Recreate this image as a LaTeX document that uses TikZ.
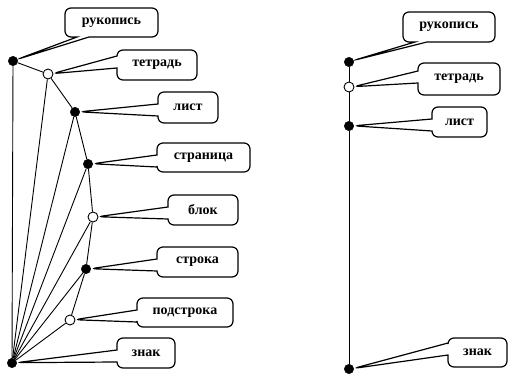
\documentclass[tikz,border=0pt]{standalone}
\usepackage{fontspec}
\setmainfont{Liberation Serif}
\usetikzlibrary{shapes.callouts}

\begin{document}
\begin{tikzpicture}[
      x=1pt, y=-1pt,
      full/.style={circle, draw, fill=black, inner sep=0pt, minimum size=9.5pt},
      hollow/.style={circle, draw, line width=0.9pt, fill=white, inner sep=0pt, minimum size=10pt},
      term/.style={rectangle callout, draw, line width=1.2pt, rounded corners=6pt, minimum height=29pt,
        inner sep=2pt, font=\fontsize{14}{16}\selectfont\bfseries, callout pointer width=12pt, callout pointer shorten=4.5pt},
      link/.style={line width=0.9pt}
    ]
    \useasboundingbox (0,0) rectangle (508,374);

    % left: full hierarchy
    \node[full] (ruk) at (13,61) {};
    \node[hollow] (tetr) at (48,74) {};
    \node[full] (list) at (75,112) {};
    \node[full] (stran) at (88,164) {};
    \node[hollow] (blok) at (93,217) {};
    \node[full] (stroka) at (86,269) {};
    \node[hollow] (podstr) at (70,320) {};
    \node[full] (znak) at (12,363) {};

    \draw[link] (ruk) -- (tetr) -- (list) -- (stran) -- (blok) -- (stroka) -- (podstr) -- (znak);
    \draw[link] (ruk) -- (znak);
    \draw[link] (znak) -- (tetr);
    \draw[link] (znak) -- (list);
    \draw[link] (znak) -- (stran);
    \draw[link] (znak) -- (blok);
    \draw[link] (znak) -- (stroka);

    \node[term, minimum width=93pt, callout absolute pointer={(ruk.center)}] (rukT) at (111.5,22.5) {рукопись};
    \node[term, minimum width=80pt, minimum height=30pt, callout absolute pointer={(tetr.center)}] (tetrT) at (157,65) {тетрадь};
    \node[term, minimum width=60pt, minimum height=31pt, callout absolute pointer={(list.center)}] (listT) at (188,107.5) {лист};
    \node[term, minimum width=93pt, callout absolute pointer={(stran.center)}] (stranT) at (203.5,157.5) {страница};
    \node[term, minimum width=70pt, minimum height=30pt, callout absolute pointer={(blok.center)}] (blokT) at (203,210) {блок};
    \node[term, minimum width=81pt, minimum height=30pt, callout absolute pointer={(stroka.center)}] (strokaT) at (197.5,262) {строка};
    \node[term, minimum width=96pt, callout absolute pointer={(podstr.center)}] (podstrT) at (185,312.5) {подстрока};
    \node[term, minimum width=58pt, minimum height=30pt, callout absolute pointer={(znak.center)}] (znakT) at (146,353) {знак};

    % right: single chain
    \node[full] (ruk2) at (349,62) {};
    \node[hollow] (tetr2) at (349,87) {};
    \node[full] (list2) at (349,126) {};
    \node[full] (znak2) at (349,369) {};

    \draw[link] (ruk2) -- (tetr2) -- (list2) -- (znak2);

    \node[term, minimum width=92pt, minimum height=30pt, callout absolute pointer={(ruk2.center)}] (rukT2) at (449,27) {рукопись};
    \node[term, minimum width=82pt, minimum height=32pt, callout absolute pointer={(tetr2.center)}] (tetrT2) at (459,79) {тетрадь};
    \node[term, minimum width=55pt, minimum height=30pt, callout absolute pointer={(list2.center)}] (listT2) at (459.5,122) {лист};
    \node[term, minimum width=59pt, callout absolute pointer={(znak2.center)}] (znakT2) at (477.5,352.5) {знак};
  \end{tikzpicture}
\end{document}
